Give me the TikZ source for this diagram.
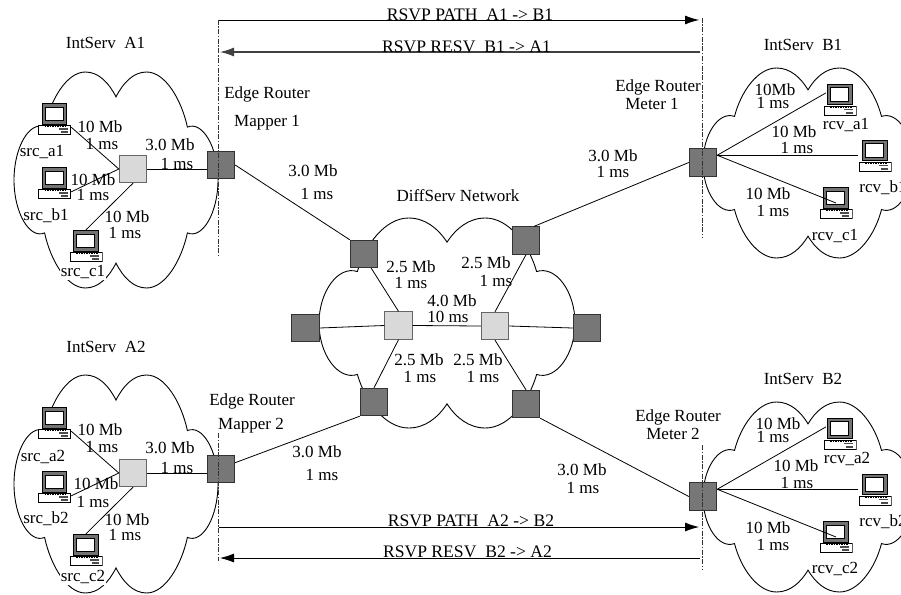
\documentclass[tikz,border=0pt]{standalone}
\usepackage{fontspec}
\setmainfont{Liberation Serif}
\usetikzlibrary{arrows.meta}
\definecolor{routerdark}{HTML}{777777}
\definecolor{routerlight}{HTML}{D9D9D9}
\tikzset{
    edgerouter/.style={
        rectangle,
        draw=black!80,            % dark outline
        fill=routerdark,
        line width=0.9pt,
        minimum size=27.5pt,
        inner sep=0pt
    },
    corerouter/.style={
        rectangle,
        draw=black!60,            % softer outline than edgerouter
        fill=routerlight,
        line width=0.9pt,
        minimum size=27.5pt,
        inner sep=0pt
    },
    computer/.style={
        rectangle,
        minimum width=33pt,
        minimum height=32pt,
        inner sep=0pt,
        path picture={
            \begin{scope}[shift={(path picture bounding box.center)}, line width=1pt]
                \draw[fill=black!55] (-12.5,-15.5) rectangle (12,5);
                \draw[fill=white] (-9.5,-12) rectangle (8.5,1.5);
                \draw[fill=white] (-16,6.5) rectangle (16,15.5);
                \draw[line width=1.2pt, dash pattern=on 1.5pt off 1pt] (-10,7.8) -- (12,7.8);
                \draw[fill=black!70, draw=none] (4,9) rectangle (13,10.5);
                \draw[fill=black!70, draw=none] (6,12) rectangle (13,14);
            \end{scope}
        }
    },
    linklabel/.style={
        font=\fontsize{17}{19}\selectfont,
        inner sep=0pt,
        text height=11.5pt,       % same box for every text, so y is the middle of the caps
        text depth=0pt
    },
    msglabel/.style={
        linklabel,
        font=\fontsize{17.6}{19}\selectfont
    },
    hostlabel/.style={
        linklabel,
        fill=white,
        inner ysep=3pt,
        inner xsep=1pt
    },
    link/.style={
        draw=black,
        line width=0.8pt
    },
    boundary/.style={
        draw=black!80,
        line width=0.8pt,
        dash pattern=on 5pt off 1.5pt on 1.5pt off 1.5pt
    },
    pathmsg/.style={
        draw=black,
        line width=0.8pt,
        -{Latex[length=14pt,width=9pt]}
    },
    resvmsg/.style={
        draw=black!75,
        line width=1.1pt,
        -{Latex[length=14pt,width=9pt]}
    },
    pics/netcloud/.style={
        code={
            \draw[line width=0.9pt] (0,-.77)
                .. controls (.07,-.9) and (.17,-1) .. (.30,-1)
                .. controls (.48,-1) and (.64,-.75) .. (.70,-.49)
                .. controls (.85,-.55) and (1,-.3) .. (1,0)
                .. controls (1,.3) and (.85,.55) .. (.70,.49)
                .. controls (.64,.75) and (.48,1) .. (.30,1)
                .. controls (.17,1) and (.07,.9) .. (0,.77)
                .. controls (-.07,.9) and (-.17,1) .. (-.30,1)
                .. controls (-.48,1) and (-.64,.75) .. (-.70,.49)
                .. controls (-.85,.55) and (-1,.3) .. (-1,0)
                .. controls (-1,-.3) and (-.85,-.55) .. (-.70,-.49)
                .. controls (-.64,-.75) and (-.48,-1) .. (-.30,-1)
                .. controls (-.17,-1) and (-.07,-.9) .. (0,-.77) -- cycle;
        }
    }
}

\begin{document}
\begin{tikzpicture}[x=1pt,y=-1pt]
	\useasboundingbox (0,0) rectangle (901,594);

	% clouds
	\pic[xscale=102,yscale=108] at (116,180) {netcloud};
	\pic[xscale=102,yscale=109] at (116,484) {netcloud};
	\pic[xscale=105,yscale=95] at (808,163) {netcloud};
	\pic[xscale=105,yscale=95] at (808,497) {netcloud};
	\pic[xscale=128,yscale=105] at (447,323) {netcloud};

	% routers
	\node[edgerouter] (edgea1) at (221,165) {};
	\node[edgerouter] (edgea2) at (221,469) {};
	\node[edgerouter] (edgeb1) at (703,162.5) {};
	\node[edgerouter] (edgeb2) at (703,496.5) {};
	\node[corerouter] (lighta1) at (133,169) {};
	\node[corerouter] (lighta2) at (133,473) {};
	\node[edgerouter] (coretl) at (364,254) {};
	\node[edgerouter] (coretr) at (526,240.5) {};
	\node[edgerouter] (corel) at (305.5,328) {};
	\node[edgerouter] (corer) at (587,328) {};
	\node[edgerouter] (corebl) at (374,402) {};
	\node[edgerouter] (corebr) at (526,404) {};
	\node[corerouter] (lightl) at (398.5,325.5) {};
	\node[corerouter] (lightr) at (495,326) {};

	% hosts
	\node[computer] (srca1) at (54.5,119) {};
	\node[computer] (srcb1) at (54.5,183) {};
	\node[computer] (srcc1) at (86,246) {};
	\node[computer] (srca2) at (54.5,423) {};
	\node[computer] (srcb2) at (54.5,487) {};
	\node[computer] (srcc2) at (86,550) {};
	\node[computer] (rcva1) at (840,99.5) {};
	\node[computer] (rcvb1) at (875,155.5) {};
	\node[computer] (rcvc1) at (836,203) {};
	\node[computer] (rcva2) at (840,433.5) {};
	\node[computer] (rcvb2) at (875,489.5) {};
	\node[computer] (rcvc2) at (836,537) {};

	% domain boundaries
	\coordinate (mapaone) at (218.5,20);
	\coordinate (mapbone) at (218.5,256);
	\coordinate (mapatwo) at (218.5,433);
	\coordinate (mapbtwo) at (218.5,561);
	\coordinate (meta1) at (702.5,18);
	\coordinate (metb1) at (702.5,237);
	\coordinate (meta2) at (702.5,445);
	\coordinate (metb2) at (702.5,570);
	\draw[boundary] (mapaone) -- (mapbone);
	\draw[boundary] (mapatwo) -- (mapbtwo);
	\draw[boundary] (meta1) -- (metb1);
	\draw[boundary] (meta2) -- (metb2);

	% signalling
	\coordinate (patha1) at (219,20);
	\coordinate (pathb1) at (699,20);
	\coordinate (resvb1) at (700,52);
	\coordinate (resva1) at (220,52);
	\coordinate (patha2) at (219,527);
	\coordinate (pathb2) at (699,527);
	\coordinate (resvb2) at (700,558);
	\coordinate (resva2) at (220,558);
	\draw[pathmsg] (patha1) -- (pathb1);
	\draw[resvmsg] (resvb1) -- (resva1);
	\draw[pathmsg] (patha2) -- (pathb2);
	\draw[pathmsg] (resvb2) -- (resva2);

	% links, A side
	\draw[link] (srca1.-26) -- (lighta1.west);
	\draw[link] (srcb1.-28) -- (lighta1.west);
	\draw[link] (srcc1.north) -- (lighta1.south);
	\draw[link] (lighta1.east) -- (lighta1.east -| edgea1.west);
	\draw[link] (srca2.-26) -- (lighta2.west);
	\draw[link] (srcb2.-28) -- (lighta2.west);
	\draw[link] (srcc2.north) -- (lighta2.south);
	\draw[link] (lighta2.east) -- (lighta2.east -| edgea2.west);

	% links, core
	\draw[link] (edgea1.east) -- (coretl.north west);
	\draw[link] (edgea2.24) -- (corebl.south west);
	\draw[link] (edgeb1.west) -- (coretr.60);
	\draw[link] (edgeb2.west) -- (corebr.south east);
	\draw[link] (coretl.-63) -- (lightl.north);
	\draw[link] (corebl.north) -- (lightl.south);
	\draw[link] (coretr.south) -- (lightr.north);
	\draw[link] (corebr.north) -- (lightr.south);
	\draw[link] (corel.east) -- (lightl.west);
	\draw[link] (lightl.east) -- (lightr.west);
	\draw[link] (lightr.east) -- (corer.west);

	% links, B side
	\draw[link, shorten >=-3pt] (edgeb1.27) -- (rcva1.163);
	\draw[link] (edgeb1.27) -- (edgeb1.27 -| rcvb1.west);
	\draw[link] (edgeb1.27) -- (rcvc1.center);
	\draw[link, shorten >=-3pt] (edgeb2.27) -- (rcva2.163);
	\draw[link] (edgeb2.27) -- (edgeb2.27 -| rcvb2.west);
	\draw[link] (edgeb2.27) -- (rcvc2.center);

	% domain names
	\node[linklabel] (namea1) at (105.5,43) {IntServ\ \ A1};
	\node[linklabel] (namea2) at (106,347) {IntServ\ \ A2};
	\node[linklabel] (nameb1) at (803,45) {IntServ\ \ B1};
	\node[linklabel] (nameb2) at (803,379) {IntServ\ \ B2};
	\node[linklabel] (named) at (458,196) {DiffServ Network};

	% signalling texts
	\node[msglabel] (textpa1) at (470,14.5) {RSVP PATH\ \ A1 -> B1};
	\node[msglabel] (textra1) at (466.5,46.5) {RSVP RESV\ \ B1 -> A1};
	\node[msglabel] (textpa2) at (471,521) {RSVP PATH\ \ A2 -> B2};
	\node[msglabel] (textra2) at (467.5,552) {RSVP RESV\ \ B2 -> A2};

	% edge router names
	\node[linklabel] (routera1) at (267,93) {Edge Router};
	\node[linklabel] (mappera1) at (267,121) {Mapper 1};
	\node[linklabel] (routera2) at (252,400) {Edge Router};
	\node[linklabel] (mappera2) at (251,424) {Mapper 2};
	\node[linklabel] (routerb1) at (658,86) {Edge Router};
	\node[linklabel] (meterb1) at (652,104) {Meter 1};
	\node[linklabel] (routerb2) at (678,416) {Edge Router};
	\node[linklabel] (meterb2) at (673,434) {Meter 2};

	% host names
	\node[linklabel] (lblsrca1) at (42,151) {src\_a1};
	\node[linklabel] (lblsrcb1) at (46,215) {src\_b1};
	\node[hostlabel] (lblsrcc1) at (83,271) {src\_c1};
	\node[linklabel] (lblsrca2) at (43,456) {src\_a2};
	\node[linklabel] (lblsrcb2) at (46,518) {src\_b2};
	\node[hostlabel] (lblsrcc2) at (83,576) {src\_c2};
	\node[linklabel] (lblrcva1) at (846,124) {rcv\_a1};
	\node[linklabel] (lblrcvb1) at (883,187) {rcv\_b1};
	\node[linklabel] (lblrcvc1) at (835,235) {rcv\_c1};
	\node[linklabel] (lblrcva2) at (847,458) {rcv\_a2};
	\node[linklabel] (lblrcvb2) at (883,521) {rcv\_b2};
	\node[linklabel] (lblrcvc2) at (835,568) {rcv\_c2};

	% link values, A1
	\node[linklabel] (mba1) at (100,127) {10 Mb};
	\node[linklabel] (msa1) at (102,144) {1 ms};
	\node[linklabel] (mbb1) at (93,180) {10 Mb};
	\node[linklabel] (msb1) at (93,195) {1 ms};
	\node[linklabel] (mbc1) at (127,217) {10 Mb};
	\node[linklabel] (msc1) at (125,233) {1 ms};
	\node[linklabel] (mbe1) at (170,145) {3.0 Mb};
	\node[linklabel] (mse1) at (177,164) {1 ms};
	\node[linklabel] (mbt1) at (313,171) {3.0 Mb};
	\node[linklabel] (mst1) at (317,194) {1 ms};

	% link values, A2
	\node[linklabel] (mba2) at (100,430) {10 Mb};
	\node[linklabel] (msa2) at (102,447) {1 ms};
	\node[linklabel] (mbb2) at (96,484) {10 Mb};
	\node[linklabel] (msb2) at (93,502) {1 ms};
	\node[linklabel] (mbc2) at (127,520) {10 Mb};
	\node[linklabel] (msc2) at (125,535) {1 ms};
	\node[linklabel] (mbe2) at (170,448) {3.0 Mb};
	\node[linklabel] (mse2) at (177,468) {1 ms};
	\node[linklabel] (mbt2) at (317,452) {3.0 Mb};
	\node[linklabel] (mst2) at (322,475) {1 ms};

	% link values, core
	\node[linklabel] (mbtl) at (411,267) {2.5 Mb};
	\node[linklabel] (mstl) at (411,283) {1 ms};
	\node[linklabel] (mbtr) at (486,263) {2.5 Mb};
	\node[linklabel] (mstr) at (496,281) {1 ms};
	\node[linklabel] (mbmid) at (452,301) {4.0 Mb};
	\node[linklabel] (msmid) at (448,317) {10 ms};
	\node[linklabel] (mbbl) at (419,360) {2.5 Mb};
	\node[linklabel] (msbl) at (420,377) {1 ms};
	\node[linklabel] (mbbr) at (478,360) {2.5 Mb};
	\node[linklabel] (msbr) at (483,377) {1 ms};

	% link values, B1
	\node[linklabel] (mbra1) at (775,90) {10Mb};
	\node[linklabel] (msra1) at (773,103) {1 ms};
	\node[linklabel] (mbrb1) at (794,132) {10 Mb};
	\node[linklabel] (msrb1) at (797,148) {1 ms};
	\node[linklabel] (mbrc1) at (768,194) {10 Mb};
	\node[linklabel] (msrc1) at (773,211) {1 ms};
	\node[linklabel] (mbm1) at (613,156) {3.0 Mb};
	\node[linklabel] (msm1) at (613,172) {1 ms};

	% link values, B2
	\node[linklabel] (mbra2) at (778,424) {10 Mb};
	\node[linklabel] (msra2) at (773,437) {1 ms};
	\node[linklabel] (mbrb2) at (796,466) {10 Mb};
	\node[linklabel] (msrb2) at (797,483) {1 ms};
	\node[linklabel] (mbrc2) at (768,528) {10 Mb};
	\node[linklabel] (msrc2) at (773,545) {1 ms};
	\node[linklabel] (mbm2) at (582,470) {3.0 Mb};
	\node[linklabel] (msm2) at (583,488) {1 ms};
\end{tikzpicture}
\end{document}
